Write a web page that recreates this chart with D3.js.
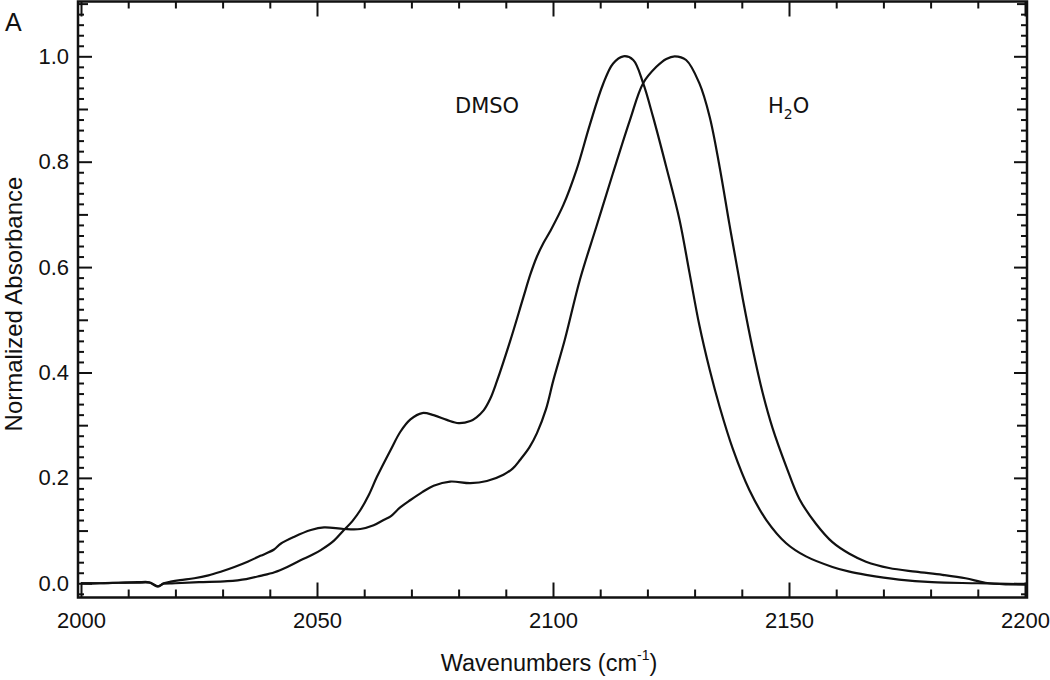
<!DOCTYPE html>
<html>
<head>
<meta charset="utf-8">
<script src="https://cdn.jsdelivr.net/npm/d3@7"></script>
<style>
  body { margin: 0; background: #fff; }
  svg text { fill: #111; }
</style>
</head>
<body>
<div id="chart"></div>
<script>
// ---- data ----
const dmsoWn = [2000, 2004, 2008, 2012, 2014.5, 2016.3, 2017.5, 2020, 2025, 2031, 2035, 2038, 2041, 2043.7, 2046.6, 2049, 2050.8, 2053.6, 2055.7, 2057.5, 2059.2, 2061, 2062.7, 2065.6, 2067.7, 2069.8, 2072.3, 2074.7, 2077.5, 2080, 2082.5, 2083.8, 2085.3, 2086.7, 2088.1, 2090.9, 2093.7, 2095.2, 2096.6, 2098, 2099.4, 2102.2, 2105, 2107.8, 2110.6, 2112.7, 2114.9, 2117, 2119.1, 2121.2, 2124, 2126.8, 2128.9, 2131, 2133.2, 2135.3, 2138.1, 2141.6, 2145.2, 2149.4, 2153.6, 2159.2, 2162.8, 2166.3, 2173.3, 2180.3, 2190, 2200]
const dmsoAbs = [0.0, 0.0, 0.001, 0.001, 0.001, -0.006, -0.001, 0.0, 0.002, 0.004, 0.008, 0.014, 0.021, 0.031, 0.044, 0.054, 0.063, 0.081, 0.101, 0.118, 0.139, 0.168, 0.202, 0.253, 0.288, 0.311, 0.323, 0.319, 0.310, 0.304, 0.308, 0.315, 0.328, 0.350, 0.383, 0.459, 0.542, 0.586, 0.620, 0.646, 0.668, 0.718, 0.785, 0.870, 0.947, 0.986, 1.0, 0.993, 0.949, 0.885, 0.790, 0.690, 0.590, 0.490, 0.405, 0.335, 0.255, 0.177, 0.120, 0.076, 0.051, 0.031, 0.022, 0.016, 0.007, 0.002, 0.0, -0.002]

const h2oWn = [2000, 2004, 2008, 2012, 2014.5, 2016.3, 2017.5, 2019, 2021, 2024, 2027, 2029.6, 2032.5, 2035.3, 2038, 2040.9, 2042.3, 2045.1, 2048.7, 2051.5, 2055.7, 2059.2, 2062, 2064.1, 2065.6, 2067.5, 2069.8, 2072.3, 2074.7, 2078.2, 2082.5, 2086, 2089.5, 2091.5, 2093, 2095, 2096.6, 2098.5, 2100.1, 2102.5, 2105.7, 2109.2, 2112.7, 2116.3, 2119.1, 2121.9, 2124, 2125.8, 2128.2, 2131, 2133.2, 2135.3, 2137.4, 2139.2, 2140.2, 2142.3, 2144.4, 2146.5, 2149.4, 2152.2, 2155.7, 2159.2, 2162.8, 2166.3, 2171.2, 2176.8, 2182.5, 2187.4, 2191.6, 2195.9, 2200]
const h2oAbs = [0.0, 0.0, 0.001, 0.002, 0.002, -0.006, 0.0, 0.003, 0.006, 0.0095, 0.015, 0.022, 0.031, 0.041, 0.052, 0.064, 0.075, 0.088, 0.101, 0.106, 0.103, 0.103, 0.110, 0.120, 0.127, 0.143, 0.158, 0.173, 0.185, 0.193, 0.190, 0.194, 0.206, 0.218, 0.234, 0.258, 0.285, 0.330, 0.386, 0.462, 0.576, 0.677, 0.778, 0.879, 0.949, 0.980, 0.995, 1.0, 0.993, 0.949, 0.885, 0.790, 0.680, 0.590, 0.540, 0.445, 0.362, 0.295, 0.222, 0.160, 0.113, 0.078, 0.056, 0.041, 0.029, 0.022, 0.016, 0.0095, 0.001, -0.002, -0.002]

const xTickLabels = [2000, 2050, 2100, 2150, 2200]
const yTickLabels = ["0.0", "0.2", "0.4", "0.6", "0.8", "1.0"]

// ---- frame ----
const W = 1050, H = 680
const frame = { left: 78, right: 1027, top: 1.5, bottom: 597.5 }

const x = d3.scaleLinear().domain([2000, 2200]).range([81, 1025])
const y = d3.scaleLinear().domain([-0.027, 1.104]).range([frame.bottom, frame.top])

const svg = d3.select("#chart")
  .append("svg")
  .attr("width", W)
  .attr("height", H)
  .style("font-family", "'Liberation Sans', Arial, sans-serif")

// tick positions (inward ticks on all four sides)
const xMinor = d3.range(2000, 2201, 10).filter(v => v % 50 !== 0)
const xMajor = xTickLabels
const yMinor = d3.range(-2, 111, 2).filter(v => v % 10 !== 0).map(v => v / 100)
const yMid = d3.range(0, 111, 10).filter(v => v % 20 !== 0).map(v => v / 100)
const yMajor = yTickLabels.map(Number)

function ticks(axisFn, pos, vals, len, transform) {
  const g = svg.append("g")
    .attr("transform", transform)
    .call(axisFn(pos).tickValues(vals).tickSizeInner(-len).tickSizeOuter(0).tickFormat(""))
  g.select(".domain").remove()
  g.selectAll("line").attr("stroke", "#111").attr("stroke-width", 2)
  return g
}

// bottom / top
ticks(d3.axisBottom, x, xMinor, 8, "translate(0," + frame.bottom + ")")
ticks(d3.axisBottom, x, xMajor, 15, "translate(0," + frame.bottom + ")")
ticks(d3.axisTop, x, xMinor, 7, "translate(0," + frame.top + ")")
ticks(d3.axisTop, x, xMajor, 15, "translate(0," + frame.top + ")")
// left / right
ticks(d3.axisLeft, y, yMinor, 6, "translate(" + frame.left + ",0)")
ticks(d3.axisLeft, y, yMid, 10, "translate(" + frame.left + ",0)")
ticks(d3.axisLeft, y, yMajor, 14, "translate(" + frame.left + ",0)")
ticks(d3.axisRight, y, yMinor, 6, "translate(" + frame.right + ",0)")
ticks(d3.axisRight, y, yMid, 10, "translate(" + frame.right + ",0)")
ticks(d3.axisRight, y, yMajor, 13, "translate(" + frame.right + ",0)")

// tick labels
const xLab = svg.append("g")
  .attr("transform", "translate(0," + frame.bottom + ")")
  .call(d3.axisBottom(x).tickValues(xTickLabels).tickSize(0).tickPadding(15).tickFormat(d3.format("d")))
xLab.select(".domain").remove()
xLab.selectAll("line").remove()
xLab.selectAll("text").style("font-size", "22px").style("font-family", "'Liberation Sans', Arial, sans-serif").attr("fill", "#111")

const yLab = svg.append("g")
  .attr("transform", "translate(" + frame.left + ",0)")
  .call(d3.axisLeft(y).tickValues(yMajor).tickSize(0).tickPadding(9).tickFormat((d, i) => yTickLabels[i]))
yLab.select(".domain").remove()
yLab.selectAll("line").remove()
yLab.selectAll("text").style("font-size", "22px").style("font-family", "'Liberation Sans', Arial, sans-serif").attr("fill", "#111")

// box
svg.append("rect")
  .attr("x", frame.left)
  .attr("y", frame.top)
  .attr("width", frame.right - frame.left)
  .attr("height", frame.bottom - frame.top)
  .attr("fill", "none")
  .attr("stroke", "#111")
  .attr("stroke-width", 2.5)

// spectra
const line = d3.line()
  .x(d => x(d[0]))
  .y(d => y(d[1]))
  .curve(d3.curveCatmullRom.alpha(0.5))

svg.append("path")
  .datum(d3.zip(dmsoWn, dmsoAbs))
  .attr("d", line)
  .attr("fill", "none")
  .attr("stroke", "#111")
  .attr("stroke-width", 2.2)

svg.append("path")
  .datum(d3.zip(h2oWn, h2oAbs))
  .attr("d", line)
  .attr("fill", "none")
  .attr("stroke", "#111")
  .attr("stroke-width", 2.2)

// curve labels
svg.append("text")
  .attr("x", 455)
  .attr("y", 113)
  .style("font-family", "'DejaVu Sans', Verdana, sans-serif")
  .style("font-size", "21px")
  .text("DMSO")

const h2o = svg.append("text")
  .attr("x", 768)
  .attr("y", 113)
  .style("font-family", "'DejaVu Sans', Verdana, sans-serif")
  .style("font-size", "21px")
h2o.append("tspan").text("H")
h2o.append("tspan").attr("dy", 6).style("font-size", "14px").text("2")
h2o.append("tspan").attr("dy", -6).text("O")

// axis titles
const xt = svg.append("text")
  .attr("x", 549)
  .attr("y", 671)
  .attr("text-anchor", "middle")
  .style("font-size", "23.5px")
xt.append("tspan").text("Wavenumbers (cm")
xt.append("tspan").attr("dy", -11).style("font-size", "14px").text("-1")
xt.append("tspan").attr("dy", 11).text(")")

svg.append("text")
  .attr("transform", "translate(22,304) rotate(-90)")
  .attr("text-anchor", "middle")
  .style("font-size", "24px")
  .text("Normalized Absorbance")

// panel letter
svg.append("text")
  .attr("x", 5)
  .attr("y", 31)
  .style("font-size", "25px")
  .text("A")
</script>
</body>
</html>
